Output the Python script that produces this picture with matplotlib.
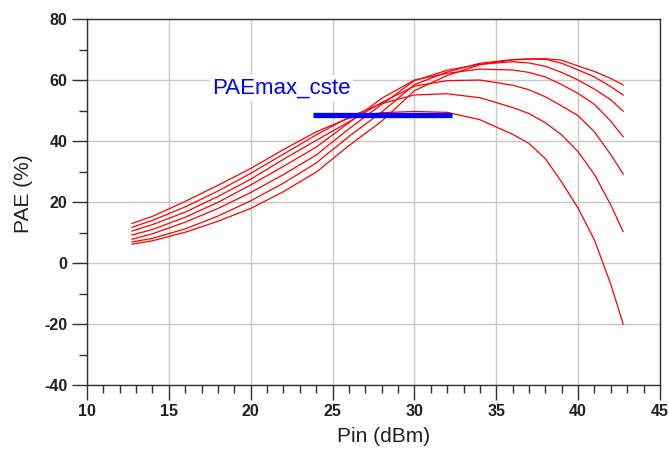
import matplotlib
matplotlib.use("Agg")
import matplotlib.pyplot as plt
from matplotlib.ticker import MultipleLocator

# input power sweep (dBm)
pin = [12.75, 14, 16, 18, 20, 22, 24, 26, 28, 30, 32, 34, 36, 37, 38, 39, 40, 41, 42, 42.75]

# PAE (%) curves, top-at-low-power first
pae_1 = [13.0, 15.3, 20.2, 25.5, 31.0, 37.2, 43.0, 47.5, 49.3, 49.7, 49.4, 47.0, 42.2, 39.2, 34.2, 26.5, 18.0, 7.5, -7.0, -20.0]
pae_2 = [11.7, 14.0, 18.4, 23.6, 29.4, 35.7, 42.0, 47.8, 52.3, 55.1, 55.5, 54.2, 51.0, 49.0, 46.0, 42.0, 36.5, 29.0, 19.0, 10.3]
pae_3 = [10.5, 12.6, 16.7, 21.8, 27.5, 34.0, 40.2, 46.3, 52.6, 58.0, 59.8, 60.0, 58.3, 56.8, 54.5, 51.5, 48.3, 43.0, 35.5, 29.2]
pae_4 = [9.2, 11.0, 15.0, 19.9, 25.6, 31.7, 38.0, 46.0, 54.0, 60.0, 62.2, 63.6, 63.3, 62.5, 61.0, 58.5, 55.6, 52.0, 46.5, 41.4]
pae_5 = [7.8, 9.6, 13.4, 17.9, 23.1, 29.0, 35.4, 44.0, 52.0, 59.8, 63.2, 65.2, 66.0, 65.6, 64.5, 62.5, 60.0, 57.0, 53.5, 49.8]
pae_6 = [6.9, 8.1, 11.2, 15.4, 20.4, 26.2, 32.8, 41.5, 49.5, 58.5, 62.6, 65.5, 66.7, 66.9, 66.8, 65.5, 63.3, 61.0, 57.8, 55.1]
pae_7 = [6.2, 7.3, 10.1, 13.7, 17.9, 23.4, 29.8, 38.5, 46.5, 56.5, 61.5, 65.0, 66.6, 66.9, 67.0, 66.5, 64.6, 62.8, 60.5, 58.4]
curves = [pae_1, pae_2, pae_3, pae_4, pae_5, pae_6, pae_7]

# constant PAEmax marker
cste_x = [23.8, 32.3]
cste_y = [48.6, 48.6]
cste_label = "PAEmax_cste"

plt.rcParams["font.family"] = ["Liberation Sans", "DejaVu Sans"]
plt.rcParams["axes.unicode_minus"] = False

fig = plt.figure(figsize=(6.69, 4.53), dpi=100)
ax = fig.add_axes([0.130, 0.150, 0.8565, 0.808])

for c in curves:
    ax.plot(pin, c, color="#ff0000", lw=0.9, zorder=3)

ax.plot(cste_x, cste_y, color="#0000ff", lw=3.8, solid_capstyle="butt", zorder=4)
ax.text(17.65, 57.4, cste_label, color="#0000ff", fontsize=16, ha="left", va="center",
        zorder=5, bbox=dict(facecolor="white", edgecolor="none", pad=2))

ax.set_xlim(10, 45)
ax.set_ylim(-40, 80)
ax.xaxis.set_major_locator(MultipleLocator(5))
ax.xaxis.set_minor_locator(MultipleLocator(1))
ax.yaxis.set_major_locator(MultipleLocator(20))
ax.yaxis.set_minor_locator(MultipleLocator(10))

ax.grid(True, which="major", color="#c8c8c8", lw=1.0, zorder=0)
ax.set_axisbelow(True)

ax.tick_params(which="major", direction="out", length=11, width=1, color="#303030",
               labelsize=11.5, pad=3)
ax.tick_params(which="minor", direction="out", length=6, width=1, color="#303030")
for lab in ax.get_xticklabels() + ax.get_yticklabels():
    lab.set_fontweight("bold")
    lab.set_color("#202020")

for s in ax.spines.values():
    s.set_color("#303030")
    s.set_linewidth(1.0)

ax.set_xlabel("Pin (dBm)", fontsize=15, color="#202020")
ax.set_ylabel("PAE (%)", fontsize=15, color="#202020")
ax.xaxis.set_label_coords(0.518, -0.115)
ax.yaxis.set_label_coords(-0.094, 0.523)

fig.savefig("out.png", dpi=100)
